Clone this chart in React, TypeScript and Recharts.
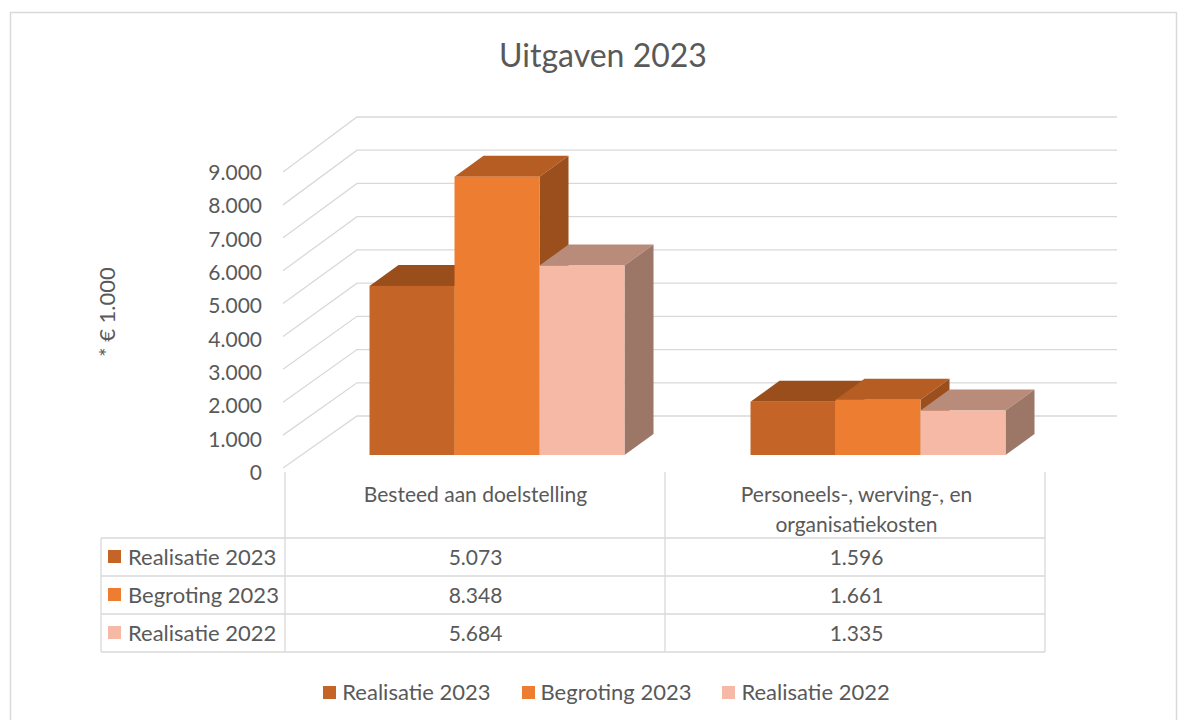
import React from "react"
import { BarChart, Bar, XAxis, YAxis, CartesianGrid } from "recharts"

const categories = ["Besteed aan doelstelling", "Personeels-, werving-, en organisatiekosten"]
const realisatie2023 = [5073, 1596]
const begroting2023 = [8348, 1661]
const realisatie2022 = [5684, 1335]
const yTicks = [0, 1000, 2000, 3000, 4000, 5000, 6000, 7000, 8000, 9000]

const SERIES = [
  { key: "r2023", name: "Realisatie 2023", values: realisatie2023, front: "#C46527", top: "#994E1C", side: "#994E1C" },
  { key: "b2023", name: "Begroting 2023", values: begroting2023, front: "#ED7D31", top: "#B55D22", side: "#9A4F1D" },
  { key: "r2022", name: "Realisatie 2022", values: realisatie2022, front: "#F5B9A6", top: "#B98B7B", side: "#9C7768" },
]

const data = categories.map((name, i) => ({
  name,
  r2023: realisatie2023[i],
  b2023: begroting2023[i],
  r2022: realisatie2022[i],
}))

const W = 1189
const H = 720
const FONT = "Lato, 'Open Sans', sans-serif"
const TEXT = "#595959"
const GRID = "#D9D9D9"

// plot box (bar fronts)
const PLOT_LEFT = 306
const PLOT_RIGHT = 1068
const PLOT_TOP = 155
const PLOT_BOTTOM = 455
const X_AXIS_H = 30

// 3d depth of the boxes
const DX = 29
const DY = 21

const fmt = (v: number) => v.toString().replace(/\B(?=(\d{3})+(?!\d))/g, ".")

// simple word wrap for the category header cells
const wrap = (label: string, maxChars = 28) => {
  const lines: string[] = []
  let cur = ""
  label.split(" ").forEach((w) => {
    const next = cur ? `${cur} ${w}` : w
    if (next.length > maxChars && cur) {
      lines.push(cur)
      cur = w
    } else {
      cur = next
    }
  })
  if (cur) lines.push(cur)
  return lines
}

const boxShape = (s: typeof SERIES[number]) => (props: any) => {
  const { x, y, width, height } = props
  if (width == null || height == null) return <g />
  const r = x + width
  const b = y + height
  return (
    <g>
      <path d={`M${x},${y} L${x + DX},${y - DY} L${r + DX},${y - DY} L${r},${y} Z`} fill={s.top} />
      <path d={`M${r},${y} L${r + DX},${y - DY} L${r + DX},${b - DY} L${r},${b} Z`} fill={s.side} />
      <rect x={x} y={y} width={width} height={height} fill={s.front} />
    </g>
  )
}

// back wall gridline with the diagonal coming from the left front edge
const gridLine = (props: any) => {
  const y = props.y1
  const depth = PLOT_BOTTOM - y
  const front = y + 13 + depth * 0.0133
  const back = y - 39 + depth * 0.0033
  return (
    <path
      key={props.key ?? `g-${y}`}
      d={`M${PLOT_LEFT - 23},${front} L${PLOT_LEFT + 51},${back} L${PLOT_RIGHT + 49},${back}`}
      fill="none"
      stroke={GRID}
      strokeWidth={1.3}
    />
  )
}

const YTick = (props: any) => {
  const { x, y, payload } = props
  return (
    <text x={x} y={y + 17.5} dy="0.35em" textAnchor="end" fill={TEXT} fontFamily={FONT} fontSize={21}>
      {fmt(payload.value)}
    </text>
  )
}

// category header + table values under each category
const CategoryTick = (props: any) => {
  const { x, y, payload } = props
  const idx = categories.indexOf(payload.value)
  const cx = x - 21
  return (
    <g>
      <text x={cx} y={y + 47} textAnchor="middle" fill={TEXT} fontFamily={FONT} fontSize={21}>
        {wrap(payload.value).map((line, i) => (
          <tspan key={i} x={cx} dy={i === 0 ? 0 : 30}>
            {line}
          </tspan>
        ))}
      </text>
      {SERIES.map((s, r) => (
        <text key={s.key} x={cx} y={y + 109.5 + r * 38} textAnchor="middle" fill={TEXT} fontFamily={FONT} fontSize={21}>
          {fmt(s.values[idx])}
        </text>
      ))}
    </g>
  )
}

const ROWS = [538, 576, 614, 652]

export default function App() {
  return (
    <div style={{ position: "absolute", left: 0, top: 0, width: W, height: H, background: "#fff" }}>
      <svg width={W} height={H} style={{ position: "absolute", left: 0, top: 0 }}>
        <path d={`M10.5,${H} V12.5 H1176.5 V${H}`} fill="none" stroke={GRID} strokeWidth={1.5} />
        <text x={603} y={67} textAnchor="middle" fill={TEXT} fontFamily={FONT} fontSize={32}>
          Uitgaven 2023
        </text>
        <text
          transform="translate(107,312) rotate(-90)"
          dy="0.35em"
          textAnchor="middle"
          fill={TEXT}
          fontFamily={FONT}
          fontSize={22}
        >
          * € 1.000
        </text>
        {/* data table grid */}
        {ROWS.map((y) => (
          <line key={y} x1={101} x2={1045} y1={y} y2={y} stroke={GRID} strokeWidth={1.3} />
        ))}
        <line x1={101} x2={101} y1={538} y2={652} stroke={GRID} strokeWidth={1.3} />
        {[285, 665, 1045].map((x) => (
          <line key={x} x1={x} x2={x} y1={472} y2={652} stroke={GRID} strokeWidth={1.3} />
        ))}
        {SERIES.map((s, r) => (
          <g key={s.key}>
            <rect x={108} y={550 + r * 38} width={13} height={13} fill={s.front} />
            <text x={128} y={564.5 + r * 38} fill={TEXT} fontFamily={FONT} fontSize={22}>
              {s.name}
            </text>
          </g>
        ))}
      </svg>

      <div style={{ position: "absolute", left: 0, top: 0 }}>
        <BarChart
          width={W}
          height={H}
          data={data}
          margin={{ top: PLOT_TOP, right: W - PLOT_RIGHT, bottom: H - PLOT_BOTTOM - X_AXIS_H, left: 0 }}
          barGap={0}
          barCategoryGap="16.67%"
        >
          <CartesianGrid vertical={false} horizontal={gridLine} stroke={GRID} />
          <XAxis
            dataKey="name"
            height={X_AXIS_H}
            axisLine={false}
            tickLine={false}
            tickSize={0}
            tickMargin={0}
            interval={0}
            tick={CategoryTick}
          />
          <YAxis
            width={PLOT_LEFT}
            domain={[0, 9000]}
            ticks={yTicks}
            axisLine={false}
            tickLine={false}
            tickSize={0}
            tickMargin={44}
            tick={YTick}
          />
          {SERIES.map((s) => (
            <Bar key={s.key} dataKey={s.key} name={s.name} isAnimationActive={false} shape={boxShape(s)} />
          ))}
        </BarChart>
      </div>

      <div
        style={{
          position: "absolute",
          left: 12,
          top: 680,
          width: W,
          display: "flex",
          justifyContent: "center",
          gap: 31,
          fontFamily: FONT,
          fontSize: 22,
          color: TEXT,
          lineHeight: "24px",
        }}
      >
        {SERIES.map((s) => (
          <div key={s.key} style={{ display: "flex", alignItems: "center" }}>
            <span style={{ width: 13, height: 13, background: s.front, marginRight: 6, display: "inline-block" }} />
            <span>{s.name}</span>
          </div>
        ))}
      </div>
    </div>
  )
}
